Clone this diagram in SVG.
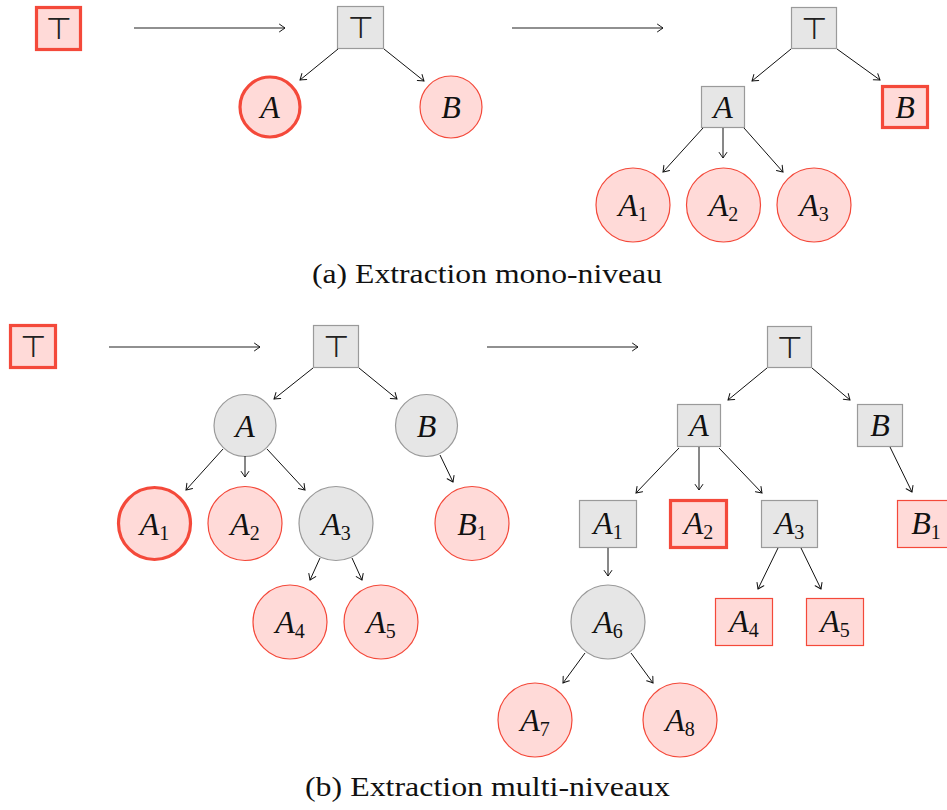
<svg xmlns="http://www.w3.org/2000/svg" width="947" height="810" viewBox="0 0 947 810">
  <defs>
    <marker id="tip" markerUnits="userSpaceOnUse" markerWidth="12" markerHeight="12" refX="0" refY="0" viewBox="-7 -6 8 12" orient="auto">
      <path d="M-5.5,-3.8 Q-1.5,-1 0,0 Q-1.5,1 -5.5,3.8" fill="none" stroke="#111" stroke-width="1" stroke-linecap="round"/>
    </marker>
  </defs>
  <style>
    .gray { fill: #e6e6e6; stroke: #9a9a9a; stroke-width: 1.2; }
    .red { fill: #ffdad8; stroke: #f4493a; stroke-width: 1.2; }
    .sel { fill: #ffdad8; stroke: #f4493a; stroke-width: 3.2; }
    .edge { stroke: #111; stroke-width: 1; fill: none; marker-end: url(#tip); }
    .step { stroke: #222; stroke-width: 1.1; fill: none; marker-end: url(#tip); }
    .m { font-style: italic; font-size: 32px; fill: #111; text-anchor: middle; }
    .m tspan.s { font-style: normal; font-size: 20px; }
    .top { font-size: 30px; fill: #222; text-anchor: middle; }
    .cap { font-size: 27px; fill: #111; text-anchor: middle; }
  </style>

  <!-- (a) single-level extraction -->
  <g id="a0-top" font-family="DejaVu Sans, sans-serif"><rect class="sel" x="36.5" y="7.5" width="44" height="42"/><text class="top" x="58.5" y="39">⊤</text></g>

  <g id="a1-top" font-family="DejaVu Sans, sans-serif"><rect class="gray" x="337.5" y="6.5" width="46" height="42"/><text class="top" x="360.5" y="38">⊤</text></g>
  <g id="a1-A" font-family="Liberation Serif, serif"><circle class="sel" cx="270" cy="107" r="30"/><text class="m" x="270" y="118">A</text></g>
  <g id="a1-B" font-family="Liberation Serif, serif"><circle class="red" cx="451" cy="107" r="31"/><text class="m" x="451" y="118">B</text></g>

  <g id="a2-top" font-family="DejaVu Sans, sans-serif"><rect class="gray" x="791.5" y="7.5" width="45" height="41"/><text class="top" x="814" y="39">⊤</text></g>
  <g id="a2-A" font-family="Liberation Serif, serif"><rect class="gray" x="701.5" y="86.5" width="43" height="41"/><text class="m" x="723" y="118">A</text></g>
  <g id="a2-B" font-family="Liberation Serif, serif"><rect class="sel" x="882.5" y="86.5" width="45" height="41"/><text class="m" x="905" y="118">B</text></g>
  <g id="a2-A1" font-family="Liberation Serif, serif"><circle class="red" cx="633" cy="205" r="37"/><text class="m" x="633" y="216">A<tspan class="s" dy="5">1</tspan></text></g>
  <g id="a2-A2" font-family="Liberation Serif, serif"><circle class="red" cx="723.5" cy="205" r="37"/><text class="m" x="723.5" y="216">A<tspan class="s" dy="5">2</tspan></text></g>
  <g id="a2-A3" font-family="Liberation Serif, serif"><circle class="red" cx="814" cy="205" r="37"/><text class="m" x="814" y="216">A<tspan class="s" dy="5">3</tspan></text></g>

  <text id="cap-a" class="cap" font-family="Liberation Serif, serif" x="487" y="283" textLength="350" lengthAdjust="spacingAndGlyphs">(a) Extraction mono-niveau</text>

  <!-- (b) multi-level extraction -->
  <g id="b0-top" font-family="DejaVu Sans, sans-serif"><rect class="sel" x="10.5" y="325.5" width="45" height="42"/><text class="top" x="33" y="357">⊤</text></g>

  <g id="b1-top" font-family="DejaVu Sans, sans-serif"><rect class="gray" x="313.5" y="325.5" width="45" height="42"/><text class="top" x="336" y="357">⊤</text></g>
  <g id="b1-A" font-family="Liberation Serif, serif"><circle class="gray" cx="245" cy="425.5" r="31"/><text class="m" x="245" y="436.5">A</text></g>
  <g id="b1-B" font-family="Liberation Serif, serif"><circle class="gray" cx="426.5" cy="425.5" r="31"/><text class="m" x="426.5" y="436.5">B</text></g>
  <g id="b1-A1" font-family="Liberation Serif, serif"><circle class="sel" cx="154.5" cy="523.5" r="36"/><text class="m" x="154.5" y="534.5">A<tspan class="s" dy="5">1</tspan></text></g>
  <g id="b1-A2" font-family="Liberation Serif, serif"><circle class="red" cx="245" cy="523.5" r="37"/><text class="m" x="245" y="534.5">A<tspan class="s" dy="5">2</tspan></text></g>
  <g id="b1-A3" font-family="Liberation Serif, serif"><circle class="gray" cx="336" cy="523.5" r="37"/><text class="m" x="336" y="534.5">A<tspan class="s" dy="5">3</tspan></text></g>
  <g id="b1-B1" font-family="Liberation Serif, serif"><circle class="red" cx="472" cy="523.5" r="37"/><text class="m" x="472" y="534.5">B<tspan class="s" dy="5">1</tspan></text></g>
  <g id="b1-A4" font-family="Liberation Serif, serif"><circle class="red" cx="290" cy="622" r="37"/><text class="m" x="290" y="633">A<tspan class="s" dy="5">4</tspan></text></g>
  <g id="b1-A5" font-family="Liberation Serif, serif"><circle class="red" cx="381" cy="622" r="37"/><text class="m" x="381" y="633">A<tspan class="s" dy="5">5</tspan></text></g>

  <g id="b2-top" font-family="DejaVu Sans, sans-serif"><rect class="gray" x="767.5" y="326.5" width="44" height="41"/><text class="top" x="789.5" y="357.5">⊤</text></g>
  <g id="b2-A" font-family="Liberation Serif, serif"><rect class="gray" x="677.5" y="404.5" width="43" height="42"/><text class="m" x="699" y="436">A</text></g>
  <g id="b2-B" font-family="Liberation Serif, serif"><rect class="gray" x="857.5" y="404.5" width="45" height="42"/><text class="m" x="880" y="436">B</text></g>
  <g id="b2-A1" font-family="Liberation Serif, serif"><rect class="gray" x="579.5" y="500.5" width="57" height="47"/><text class="m" x="608" y="534">A<tspan class="s" dy="5">1</tspan></text></g>
  <g id="b2-A2" font-family="Liberation Serif, serif"><rect class="sel" x="670.5" y="500.5" width="56" height="47"/><text class="m" x="698.5" y="534">A<tspan class="s" dy="5">2</tspan></text></g>
  <g id="b2-A3" font-family="Liberation Serif, serif"><rect class="gray" x="761.5" y="500.5" width="56" height="47"/><text class="m" x="789.5" y="534">A<tspan class="s" dy="5">3</tspan></text></g>
  <g id="b2-B1" font-family="Liberation Serif, serif"><rect class="red" x="897.5" y="500.5" width="57" height="47"/><text class="m" x="926" y="534">B<tspan class="s" dy="5">1</tspan></text></g>
  <g id="b2-A4" font-family="Liberation Serif, serif"><rect class="red" x="715.5" y="598.5" width="57" height="47"/><text class="m" x="744" y="632">A<tspan class="s" dy="5">4</tspan></text></g>
  <g id="b2-A5" font-family="Liberation Serif, serif"><rect class="red" x="806.5" y="598.5" width="57" height="47"/><text class="m" x="835" y="632">A<tspan class="s" dy="5">5</tspan></text></g>
  <g id="b2-A6" font-family="Liberation Serif, serif"><circle class="gray" cx="608" cy="622" r="37"/><text class="m" x="608" y="633">A<tspan class="s" dy="5">6</tspan></text></g>
  <g id="b2-A7" font-family="Liberation Serif, serif"><circle class="red" cx="535" cy="720" r="37"/><text class="m" x="535" y="731">A<tspan class="s" dy="5">7</tspan></text></g>
  <g id="b2-A8" font-family="Liberation Serif, serif"><circle class="red" cx="680" cy="720" r="37"/><text class="m" x="680" y="731">A<tspan class="s" dy="5">8</tspan></text></g>

  <text id="cap-b" class="cap" font-family="Liberation Serif, serif" x="487.5" y="796" textLength="365" lengthAdjust="spacingAndGlyphs">(b) Extraction multi-niveaux</text>

  <!-- connectors -->
  <g id="connectors">
    <!-- step arrows -->
    <line class="step" x1="134" y1="28" x2="285" y2="28"/>
    <line class="step" x1="512" y1="28" x2="663" y2="28"/>
    <line class="step" x1="109" y1="347" x2="260" y2="347"/>
    <line class="step" x1="487" y1="347" x2="638" y2="347"/>

    <!-- (a) middle tree -->
    <line class="edge" x1="338" y1="49" x2="300" y2="80"/>
    <line class="edge" x1="384" y1="49" x2="424" y2="81"/>
    <!-- (a) right tree -->
    <line class="edge" x1="791" y1="49" x2="752" y2="81"/>
    <line class="edge" x1="837" y1="49" x2="880" y2="80"/>
    <line class="edge" x1="703" y1="128" x2="663" y2="172"/>
    <line class="edge" x1="723" y1="128" x2="723" y2="158"/>
    <line class="edge" x1="744" y1="128" x2="783" y2="172"/>

    <!-- (b) middle tree -->
    <line class="edge" x1="313" y1="368" x2="274" y2="399"/>
    <line class="edge" x1="359" y1="368" x2="397" y2="399"/>
    <line class="edge" x1="223" y1="449" x2="186" y2="490"/>
    <line class="edge" x1="245" y1="456" x2="245" y2="477"/>
    <line class="edge" x1="267" y1="449" x2="305" y2="490"/>
    <line class="edge" x1="440" y1="455" x2="453" y2="482"/>
    <line class="edge" x1="320" y1="558" x2="310" y2="580"/>
    <line class="edge" x1="352" y1="558" x2="362" y2="580"/>

    <!-- (b) right tree -->
    <line class="edge" x1="767" y1="368" x2="728" y2="400"/>
    <line class="edge" x1="812" y1="368" x2="850" y2="400"/>
    <line class="edge" x1="679" y1="448" x2="636" y2="493"/>
    <line class="edge" x1="699" y1="447" x2="699" y2="490"/>
    <line class="edge" x1="719" y1="448" x2="762" y2="493"/>
    <line class="edge" x1="890" y1="447" x2="912" y2="492"/>
    <line class="edge" x1="608" y1="548" x2="608" y2="576"/>
    <line class="edge" x1="778" y1="548" x2="758" y2="589"/>
    <line class="edge" x1="801" y1="548" x2="821" y2="589"/>
    <line class="edge" x1="585" y1="653" x2="563" y2="683"/>
    <line class="edge" x1="631" y1="653" x2="653" y2="683"/>
  </g>
</svg>
